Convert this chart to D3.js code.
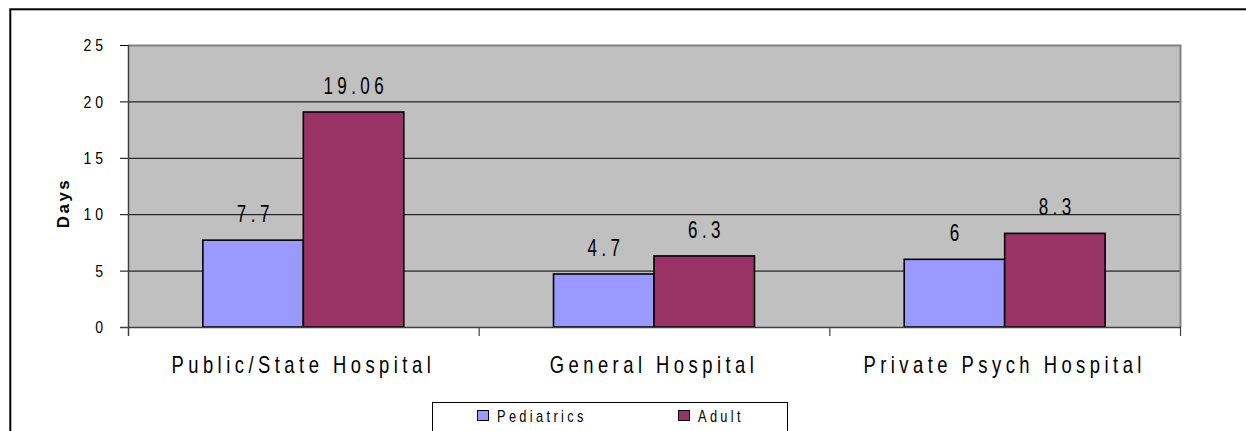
<!doctype html>
<html>
<head>
<meta charset="utf-8">
<title>Days</title>
<script src="https://cdn.jsdelivr.net/npm/d3@7"></script>
<style>
  body { margin: 0; background: #fff; }
  text { font-family: "Liberation Sans", Arial, sans-serif; fill: #000; }
</style>
</head>
<body>
<svg width="1246" height="431"></svg>
<script>
var categories = ["Public/State Hospital", "General Hospital", "Private Psych Hospital"];
var seriesNames = ["Pediatrics", "Adult"];
var pediatrics = [7.7, 4.7, 6];
var adult = [19.06, 6.3, 8.3];
var yTicks = [0, 5, 10, 15, 20, 25];
var colors = ["#9999ff", "#993366"];

var svg = d3.select("svg");
var plot = { left: 128, top: 45, right: 1180, bottom: 327 };

// outer chart border (cut off at right and bottom)
svg.append("rect")
    .attr("x", 10.3).attr("y", 9.3)
    .attr("width", 1400).attr("height", 600)
    .attr("fill", "none").attr("stroke", "#000").attr("stroke-width", 2);

var x = d3.scaleBand().domain(categories).range([plot.left, plot.right]);
var xs = d3.scaleBand().domain(seriesNames).range([0, x.bandwidth()]).paddingOuter(0.745);
var y = d3.scaleLinear().domain([0, 25]).range([plot.bottom, plot.top]);

// squeeze text horizontally, like the narrow original font
function squish(sel, sx) {
    sel.each(function() {
        var t = d3.select(this);
        var tx = +t.attr("x") || 0, ty = +t.attr("y") || 0;
        t.attr("x", 0).attr("y", 0)
         .attr("transform", "translate(" + tx + "," + ty + ") scale(" + sx + ",1)");
    });
}

svg.append("rect")
    .attr("x", plot.left).attr("y", plot.top)
    .attr("width", plot.right - plot.left).attr("height", plot.bottom - plot.top)
    .attr("fill", "#c0c0c0");

// gridlines
svg.append("g").selectAll("line")
    .data(yTicks.filter(function(d) { return d > 0 && d < 25; }))
    .join("line")
    .attr("x1", plot.left).attr("x2", plot.right)
    .attr("y1", function(d) { return y(d) + 0.5; }).attr("y2", function(d) { return y(d) + 0.5; })
    .attr("stroke", "#000").attr("stroke-width", 1);

// plot border top + right
svg.append("path")
    .attr("d", "M" + plot.left + "," + (plot.top + 0.5) + "H" + (plot.right + 0.5) + "V" + plot.bottom)
    .attr("fill", "none").attr("stroke", "#808080").attr("stroke-width", 2);

// bars
var series = [pediatrics, adult];
var groups = svg.append("g").selectAll("g")
    .data(seriesNames)
    .join("g")
    .attr("fill", function(d, i) { return colors[i]; });

groups.selectAll("rect")
    .data(function(s, i) { return series[i].map(function(v, j) { return { s: s, c: categories[j], v: v }; }); })
    .join("rect")
    .attr("x", function(d) { return x(d.c) + xs(d.s); })
    .attr("y", function(d) { return y(d.v); })
    .attr("width", xs.bandwidth())
    .attr("height", function(d) { return y(0) - y(d.v); })
    .attr("stroke", "#000").attr("stroke-width", 1.6);

// value labels
var ls = 6;
groups.selectAll("text")
    .data(function(s, i) { return series[i].map(function(v, j) { return { s: s, c: categories[j], v: v }; }); })
    .join("text")
    .attr("x", function(d) { return x(d.c) + xs(d.s) + xs.bandwidth() / 2 + ls * 0.74 / 2; })
    .attr("y", function(d) { return y(d.v) - 18; })
    .attr("text-anchor", "middle")
    .attr("fill", "#000")
    .style("font-size", "23px")
    .style("letter-spacing", ls + "px")
    .text(function(d) { return d.v; })
    .call(squish, 0.74);

// y axis
var yAxis = d3.axisLeft(y).tickValues(yTicks).tickSize(8).tickFormat(d3.format("d"));
var yg = svg.append("g").attr("transform", "translate(" + plot.left + ",0)").call(yAxis);
yg.select(".domain").attr("d", "M0.5," + plot.top + "V" + (plot.bottom + 9)).attr("stroke", "#404040").attr("stroke-width", 1.5);
yg.selectAll(".tick line").attr("stroke", "#000");
yg.selectAll(".tick text")
    .attr("x", -21).attr("y", 0).attr("dy", "0.36em")
    .style("font-size", "16px").style("letter-spacing", "4.5px")
    .call(squish, 0.88);

// x axis
var xAxis = d3.axisBottom(x).tickSize(0).tickPadding(0);
var xg = svg.append("g").attr("transform", "translate(0," + plot.bottom + ")").call(xAxis);
xg.select(".domain").attr("d", "M" + (plot.left - 8) + ",0.5H" + (plot.right + 1)).attr("stroke", "#404040").attr("stroke-width", 1.5);
xg.selectAll(".tick text")
    .attr("x", 0).attr("y", 46).attr("dy", 0)
    .style("font-size", "23px").style("letter-spacing", "5.6px")
    .call(squish, 0.8);
// category separators
xg.append("g").selectAll("line")
    .data(categories.slice(1).map(function(c) { return x(c); }).concat([plot.right]))
    .join("line")
    .attr("x1", function(d) { return d + 0.5; }).attr("x2", function(d) { return d + 0.5; })
    .attr("y1", 0).attr("y2", 9)
    .attr("stroke", "#404040").attr("stroke-width", 1.2);

// y axis title
svg.append("text")
    .attr("transform", "translate(69,203) rotate(-90)")
    .attr("text-anchor", "middle")
    .style("font-size", "17px").style("font-weight", "bold").style("letter-spacing", "2.5px")
    .text("Days");

// legend
var legend = svg.append("g");
legend.append("rect")
    .attr("x", 432.5).attr("y", 402.5).attr("width", 355).attr("height", 60)
    .attr("fill", "#fff").attr("stroke", "#000").attr("stroke-width", 1);
var lx = d3.scalePoint().domain(seriesNames).range([477, 678]);
var items = legend.selectAll("g.item").data(seriesNames).join("g").attr("class", "item")
    .attr("transform", function(d) { return "translate(" + lx(d) + ",0)"; });
items.append("rect")
    .attr("x", 0.5).attr("y", 410.5).attr("width", 11).attr("height", 10)
    .attr("fill", function(d, i) { return colors[i]; })
    .attr("stroke", "#000").attr("stroke-width", 1);
items.append("text")
    .attr("x", 20).attr("y", 422)
    .style("font-size", "16px").style("letter-spacing", "4.2px")
    .text(function(d) { return d; })
    .call(squish, 0.8);
</script>
</body>
</html>
